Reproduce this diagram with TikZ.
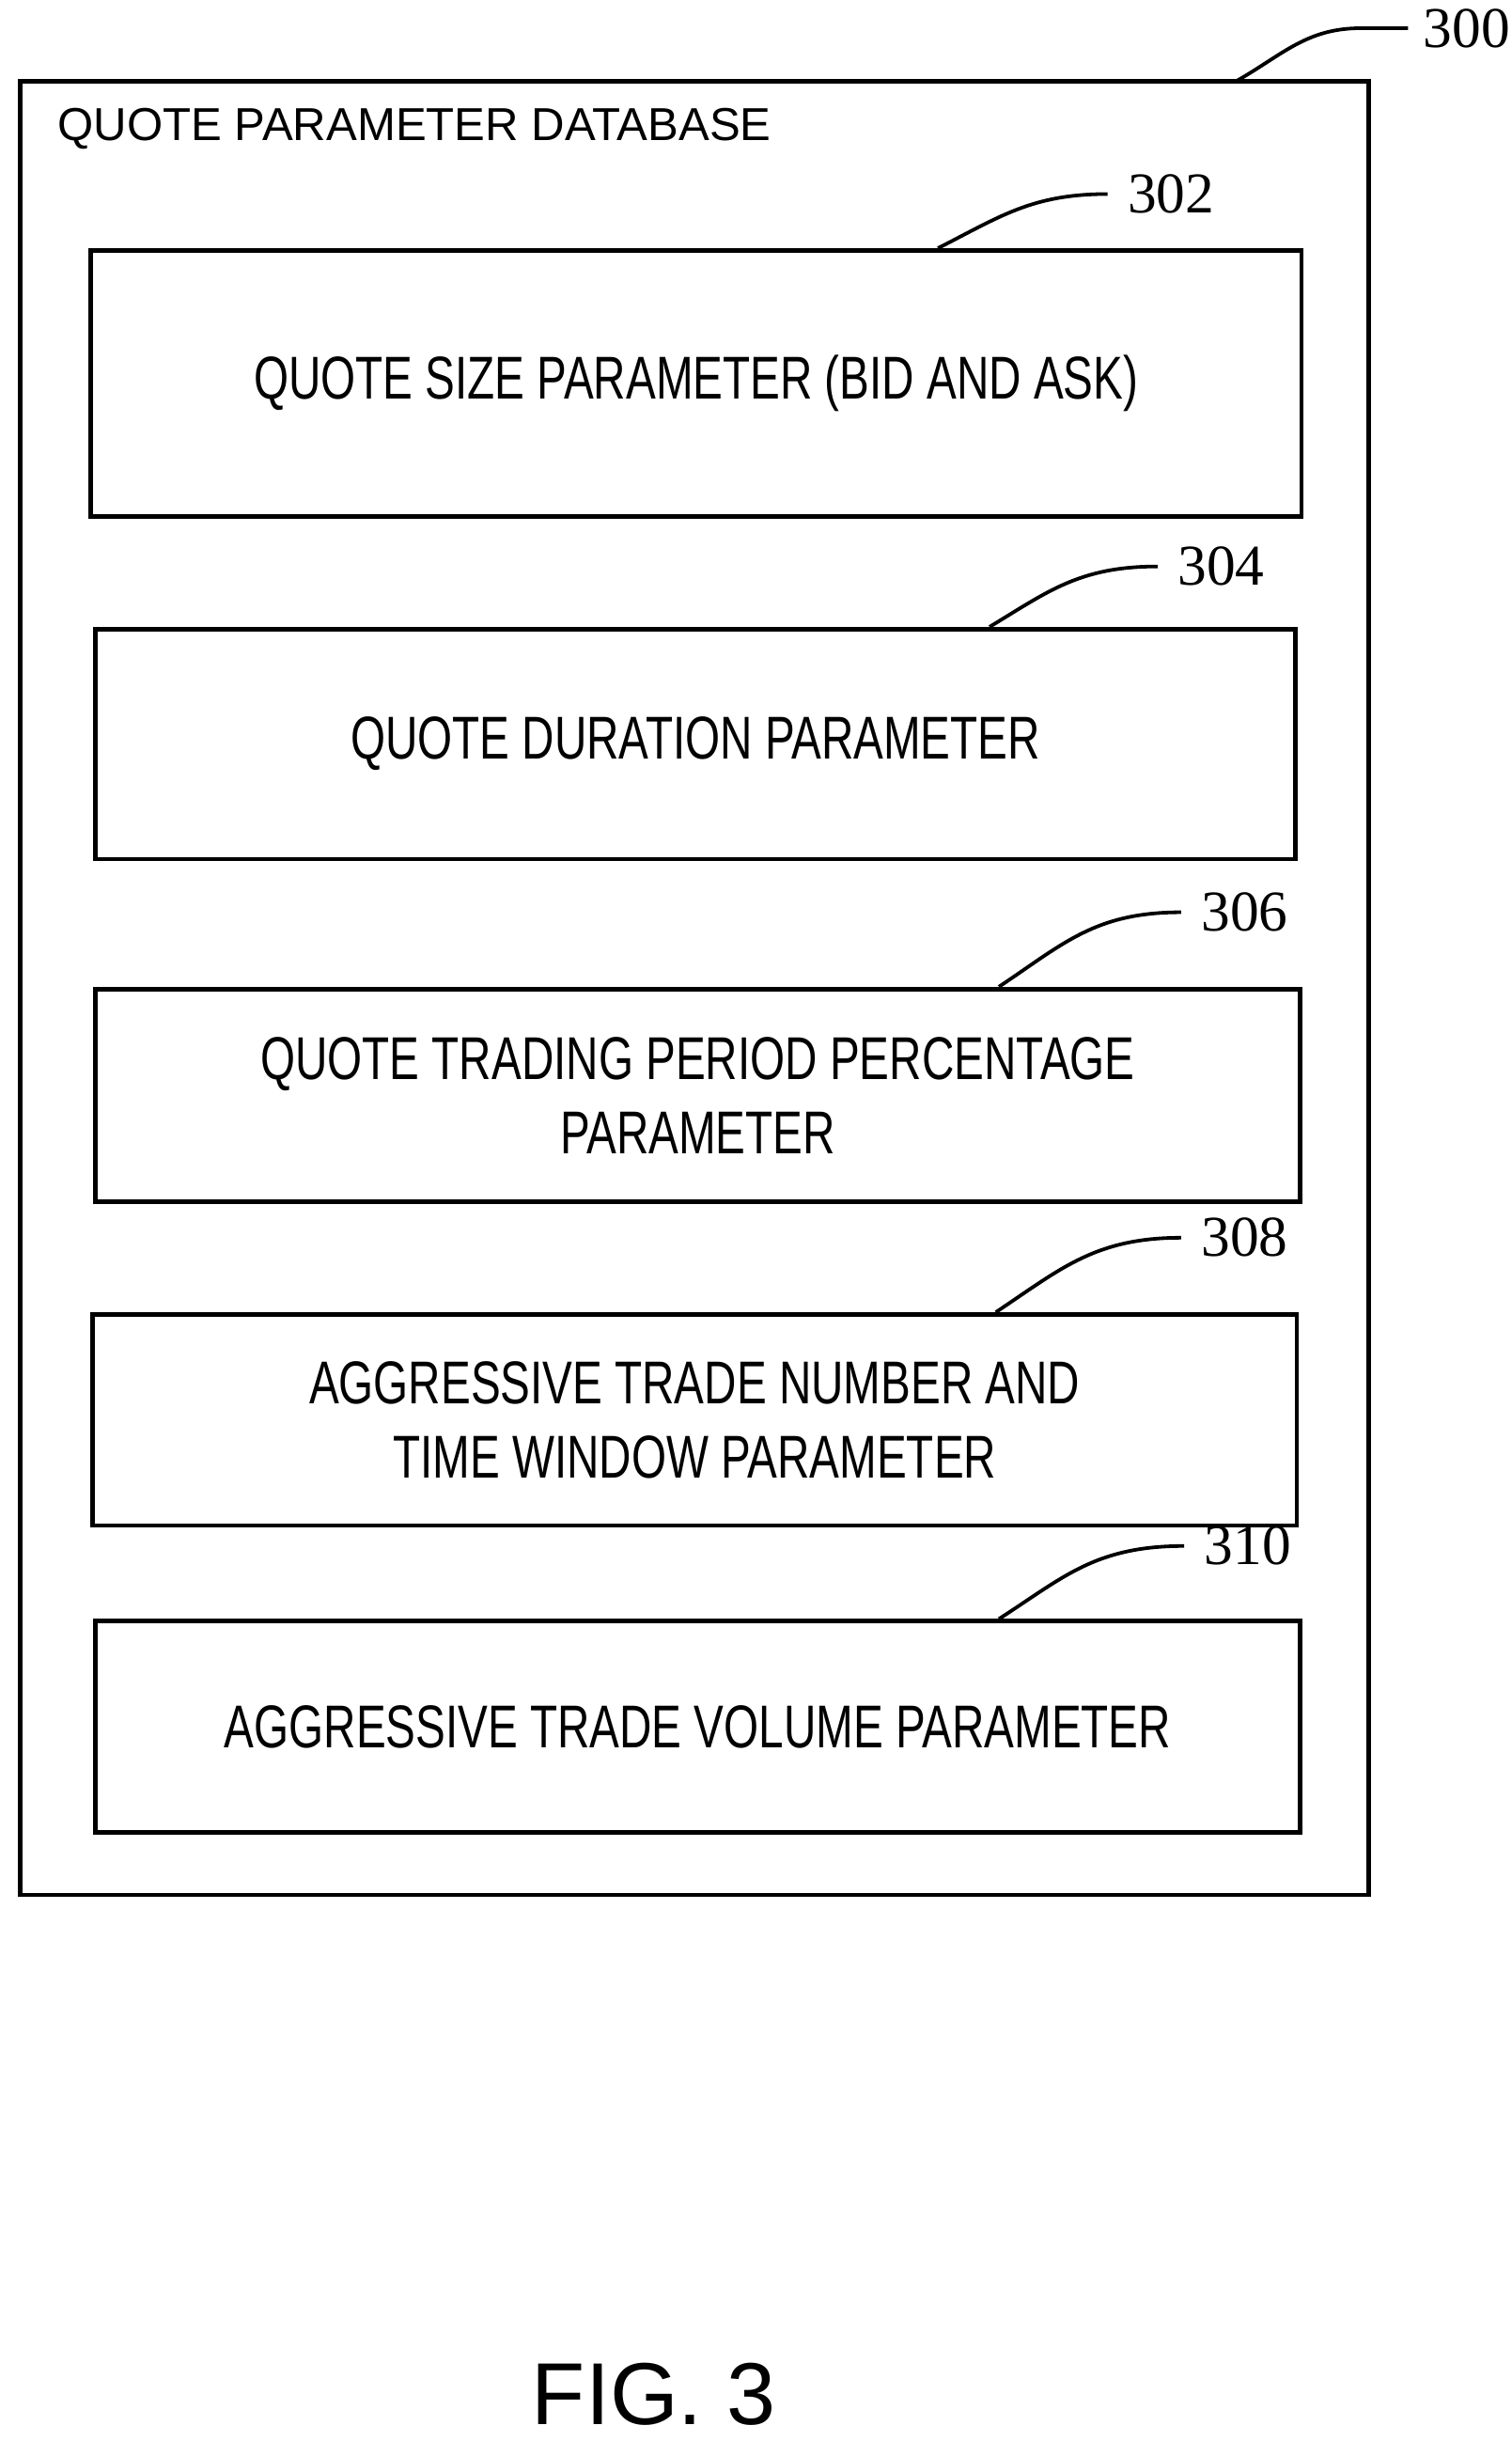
\documentclass[tikz,border=0pt]{standalone}
\usepackage{fontspec}
\setmainfont{Liberation Sans}
\newfontfamily\narrowfont[FakeStretch=0.74]{Liberation Sans}
\newfontfamily\numfont{Liberation Serif}
\begin{document}
\begin{tikzpicture}[x=0.02cm,y=-0.02cm,line width=1.3pt,
  box/.style={draw,line width=1.6pt,align=center,font=\narrowfont\fontsize{22}{27}\selectfont},
  ref/.style={anchor=west,inner sep=1pt,font=\numfont\fontsize{21}{24}\selectfont}]

\useasboundingbox (0,0) rectangle (966,1560);

\draw[line width=1.6pt] (13,52) rectangle (875,1211);
\node[anchor=west,font=\fontsize{16.8}{20}\selectfont] (title) at (30,82) {QUOTE PARAMETER DATABASE};

\node[box,minimum width=15.48cm,minimum height=3.4cm] (size) at (445,245) {QUOTE SIZE PARAMETER (BID AND ASK)};
\node[box,minimum width=15.34cm,minimum height=2.94cm] (dur) at (444.5,475.5) {QUOTE DURATION PARAMETER};
\node[box,minimum width=15.4cm,minimum height=2.72cm] (period) at (446,700) {QUOTE TRADING PERIOD PERCENTAGE\\PARAMETER};
\node[box,minimum width=15.4cm,minimum height=2.7cm] (number) at (444,907.5) {AGGRESSIVE TRADE NUMBER AND\\TIME WINDOW PARAMETER};
\node[box,minimum width=15.4cm,minimum height=2.7cm] (volume) at (446,1103.5) {AGGRESSIVE TRADE VOLUME PARAMETER};

% reference numerals
\coordinate (c300) at (870,18);
\coordinate (c302) at (708,124);
\coordinate (c304) at (740,362);
\coordinate (c306) at (755,583);
\coordinate (c308) at (755,791);
\coordinate (c310) at (757,988);
\node[ref] (n300) at ([xshift=0.74cm]c300) {300};
\node[ref] (n302) at ([xshift=0.2cm]c302) {302};
\node[ref] (n304) at ([xshift=0.2cm]c304) {304};
\node[ref] (n306) at ([xshift=0.2cm]c306) {306};
\node[ref] (n308) at ([xshift=0.2cm]c308) {308};
\node[ref] (n310) at ([xshift=0.2cm]c310) {310};

\draw (790,52) .. controls (820,35) and (835,18) .. (c300) -- ([xshift=0.6cm]c300);
\draw ([xshift=10.86cm]size.north west) .. controls (640,138) and (660,124) .. (c302);
\draw ([xshift=11.46cm]dur.north west) .. controls (670,378) and (690,362) .. (c304);
\draw ([xshift=11.58cm]period.north west) .. controls (680,603) and (700,583) .. (c306);
\draw ([xshift=11.58cm]number.north west) .. controls (678,811) and (700,791) .. (c308);
\draw ([xshift=11.58cm]volume.north west) .. controls (680,1008) and (700,988) .. (c310);

\node[font=\fontsize{32}{36}\selectfont] (fig) at (418,1530) {FIG. 3};
\end{tikzpicture}
\end{document}
